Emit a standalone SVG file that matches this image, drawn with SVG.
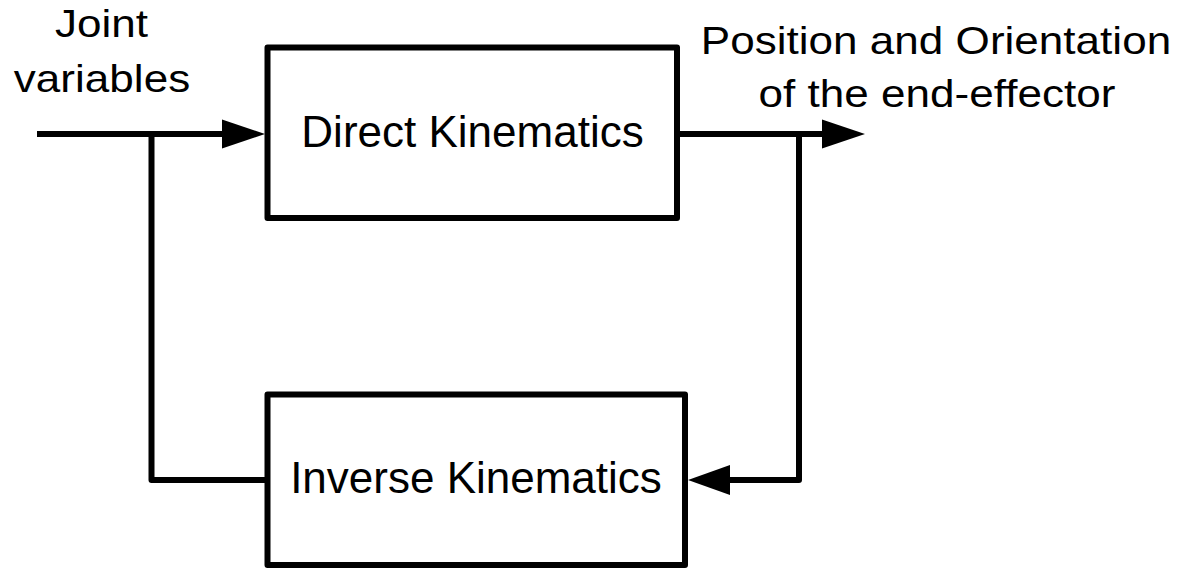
<svg xmlns="http://www.w3.org/2000/svg" width="1180" height="568" viewBox="0 0 1180 568">
<style>
.box{fill:#fff;stroke:#000;stroke-width:6;stroke-linejoin:round}
.wire{fill:none;stroke:#000;stroke-width:6;stroke-linejoin:round}
.head{fill:#000;stroke:none}
.lbl{font-family:"Liberation Sans",Arial,sans-serif;fill:#000;text-anchor:middle}
.big{font-size:44px}
.sm{font-size:39px}
</style>
<rect width="1180" height="568" fill="#fff"/>
<g id="connectors">
<polyline class="wire" points="37,134 225,134"/>
<polyline class="wire" points="151.5,134 151.5,480 267,480"/>
<polyline class="wire" points="677,134 825,134"/>
<polyline class="wire" points="799,134 799,480 727,480"/>
<polygon class="head" points="265,134 222,119.5 222,148.5"/>
<polygon class="head" points="865,134 822,119.5 822,148.5"/>
<polygon class="head" points="688,480 730,465 730,495"/>
</g>
<g id="direct">
<rect class="box" x="267.5" y="47.5" width="409.5" height="170.5"/>
<text class="lbl big" x="472.5" y="147">Direct Kinematics</text>
</g>
<g id="inverse">
<rect class="box" x="267.5" y="394.5" width="417.5" height="170.5"/>
<text class="lbl big" x="476" y="493">Inverse Kinematics</text>
</g>
<g id="input-label">
<text class="lbl sm" transform="translate(101.5,37) scale(1.13,1)">Joint</text>
<text class="lbl sm" transform="translate(102,92) scale(1.13,1)">variables</text>
</g>
<g id="output-label">
<text class="lbl sm" transform="translate(936,54) scale(1.13,1)">Position and Orientation</text>
<text class="lbl sm" transform="translate(937,107) scale(1.13,1)">of the end-effector</text>
</g>
</svg>
